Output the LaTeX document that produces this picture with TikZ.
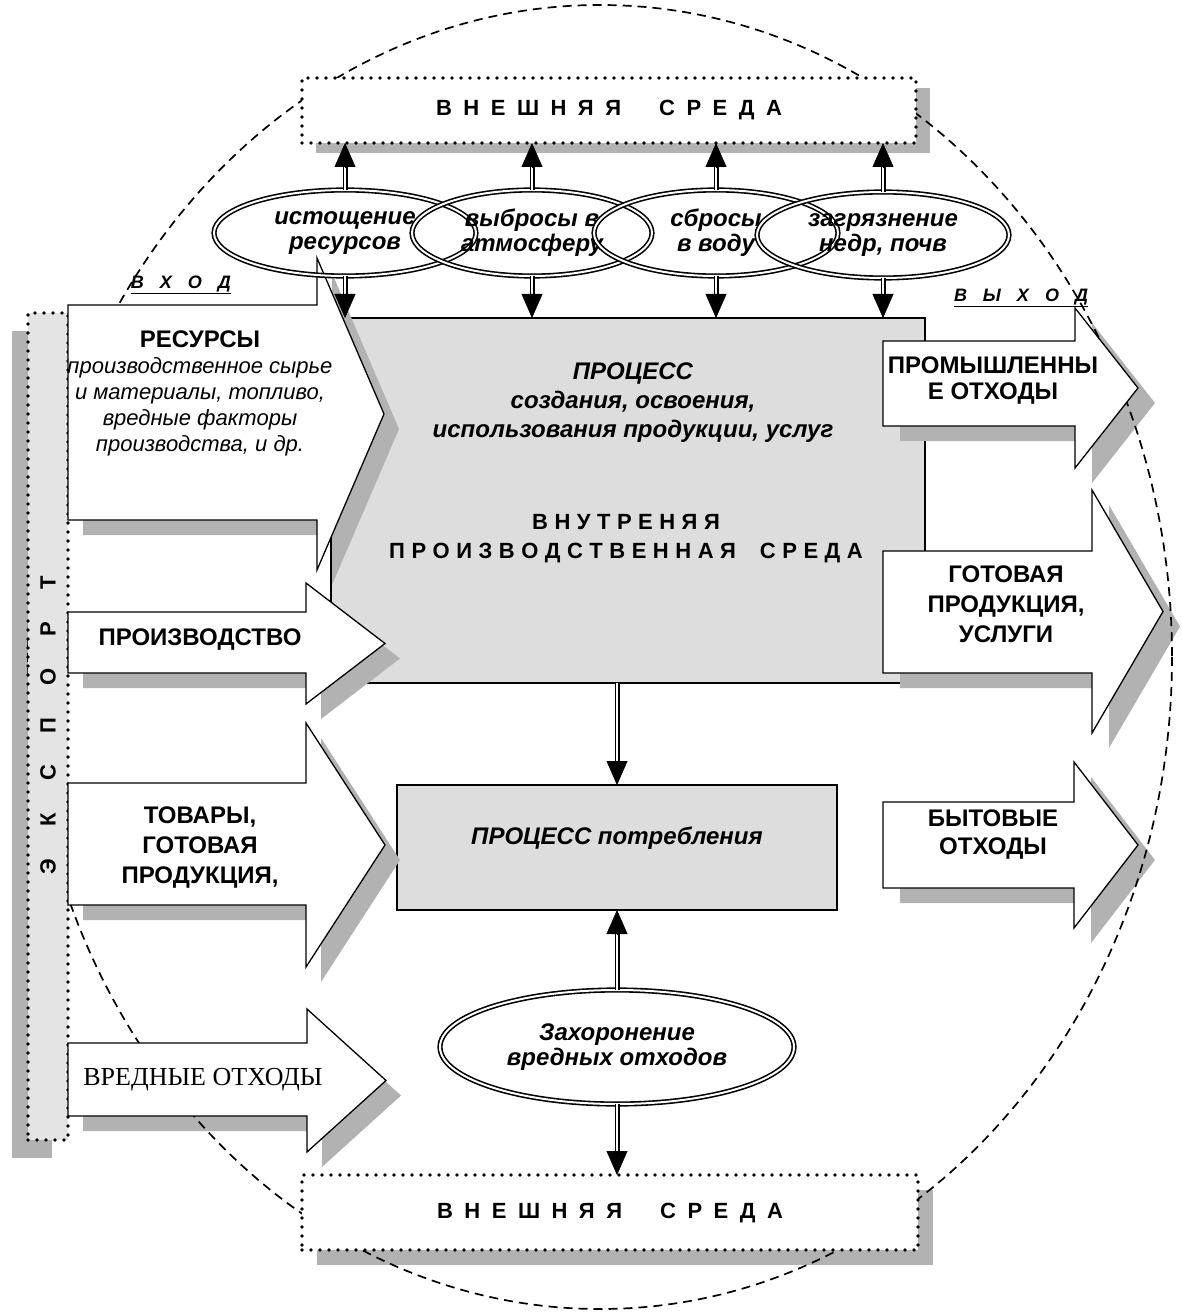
\documentclass[tikz,border=0pt]{standalone}
\usepackage{fontspec}
\setmainfont{Liberation Sans}
\newfontfamily\timesfont{Liberation Serif}
\usetikzlibrary{shapes.geometric,arrows.meta,calc}

\pgfdeclarelayer{back}
\pgfdeclarelayer{shadow}
\pgfdeclarelayer{ring}
\pgfsetlayers{back,shadow,ring,main}

\definecolor{shadowgray}{RGB}{178,178,178}
\definecolor{procgray}{RGB}{221,221,221}
\definecolor{bandgray}{RGB}{228,228,228}

% letters of a word set apart by #1
\makeatletter
\newcommand{\spread}[2]{\@tfor\spr@ch:=#2\do{\spr@ch\hspace{#1}}\unskip}
\makeatother

\tikzset{
  shd/.style={fill=shadowgray},
  blk/.style={draw, fill=white, line width=1.3pt},
  procbox/.style={draw, fill=procgray, line width=1.3pt, inner sep=0pt, outer sep=0pt},
  envbox/.style={draw, fill=white, line width=3.8pt, dash pattern=on 0pt off 9pt,
    line cap=round, inner sep=0pt, outer sep=0pt,
    font=\fontsize{22}{26}\selectfont\bfseries},
  bandbox/.style={draw, fill=bandgray, line width=3.8pt, dash pattern=on 0pt off 9pt,
    line cap=round, inner sep=0pt, outer sep=0pt},
  oval/.style={ellipse, draw, double, double distance=2pt, line width=1.6pt,
    inner sep=0pt, outer sep=0pt, align=center,
    font=\fontsize{24}{25}\selectfont\bfseries\itshape},
  ring/.style={dash pattern=on 9pt off 6pt, line width=1.7pt},
  dbl/.style={double, double distance=2.6pt, line width=1.2pt, shorten >=20pt},
  head/.style={-{Triangle[width=21pt,length=24pt]}},
  capstxt/.style={font=\fontsize{24}{30}\selectfont\bfseries, align=center, inner sep=0pt},
  ittxt/.style={font=\fontsize{24}{29}\selectfont\bfseries\itshape, align=center, inner sep=0pt},
  lbltxt/.style={font=\fontsize{18}{20}\selectfont\bfseries\itshape, inner sep=0pt},
}

% block arrow: body x0,x1 / body top,bottom / head top,bottom / tip x / shadow shift
\newcommand{\blockarrow}[8]{%
  \begin{pgfonlayer}{shadow}
    \fill[shd, shift={#8}] (#1,#3) -- (#2,#3) -- (#2,#5) -- (#7,{(#5+#6)/2})
      -- (#2,#6) -- (#2,#4) -- (#1,#4) -- cycle;
  \end{pgfonlayer}
  \draw[blk] (#1,#3) -- (#2,#3) -- (#2,#5) -- (#7,{(#5+#6)/2})
    -- (#2,#6) -- (#2,#4) -- (#1,#4) -- cycle;}

\newcommand{\shadowof}[2]{%
  \begin{pgfonlayer}{shadow}
    \fill[shd] ([shift={#2}]#1.north west) rectangle ([shift={#2}]#1.south east);
  \end{pgfonlayer}}

% double shaft with a filled head
\newcommand{\dlink}[2]{%
  \draw[dbl] (#1) -- (#2);
  \draw[head] ($(#2)!24pt!(#1)$) -- (#2);}

\begin{document}
\begin{tikzpicture}[x=1pt,y=-1pt]
  \useasboundingbox (0,0) rectangle (1181,1313);

  % process boxes
  \begin{pgfonlayer}{back}
    \node[procbox, minimum width=594pt, minimum height=365pt] (proc) at (628,500.5) {};
    \node[procbox, minimum width=440pt, minimum height=125pt] (cons) at (617,847.5) {};
  \end{pgfonlayer}

  \begin{pgfonlayer}{ring}
    \draw[ring] (600,657) ellipse [x radius=572, y radius=652];
  \end{pgfonlayer}

  % environment
  \node[envbox, minimum width=614pt, minimum height=65pt] (topenv) at (609,110.5)
    {\spread{11.5pt}{ВНЕШНЯЯ}\hspace{38pt}\spread{11.5pt}{СРЕДА}};
  \shadowof{topenv}{(14,10)}
  \node[envbox, minimum width=616pt, minimum height=75pt] (botenv) at (610,1212.5)
    {\spread{11.5pt}{ВНЕШНЯЯ}\hspace{38pt}\spread{11.5pt}{СРЕДА}};
  \shadowof{botenv}{(15,15)}

  % export band
  \node[bandbox, minimum width=40pt, minimum height=827pt] (export) at (48,726.5) {};
  \shadowof{export}{(-16,18)}
  \node[rotate=90, inner sep=0pt, font=\fontsize{22}{26}\selectfont\bfseries] (exptxt) at (48,725)
    {\spread{32pt}{ЭКСПОРТ}};

  % inputs
  \blockarrow{68}{317}{305}{520}{258}{570}{384}{(15,15)}
  \blockarrow{68}{306}{612}{673}{583}{704}{385}{(15,15)}
  \blockarrow{68}{306}{783}{905}{723}{967}{385}{(15,15)}
  \blockarrow{68}{307}{1043}{1116}{1009}{1152}{386}{(15,15)}
  \node[capstxt] (res) at (200,393) {РЕСУРСЫ\\[-4pt]
    {\mdseries\itshape\fontsize{22}{26}\selectfont производственное сырье}\\[-4pt]
    {\mdseries\itshape\fontsize{22}{26}\selectfont и материалы, топливо,}\\[-4pt]
    {\mdseries\itshape\fontsize{22}{26}\selectfont вредные факторы}\\[-4pt]
    {\mdseries\itshape\fontsize{22}{26}\selectfont производства, и др.}};
  \node[capstxt] (prod) at (200,640) {ПРОИЗВОДСТВО};
  \node[capstxt] (goods) at (200,848) {ТОВАРЫ,\\ГОТОВАЯ\\ПРОДУКЦИЯ,};
  \node[inner sep=0pt, font=\timesfont\fontsize{26}{28}\selectfont] (harm) at (203,1080) {ВРЕДНЫЕ ОТХОДЫ};
  \node[lbltxt] (vhod) at (181,285) {\underline{\spread{16pt}{ВХОД}}};

  % outputs
  \blockarrow{883}{1075}{341}{426}{308}{468}{1138}{(17,15)}
  \blockarrow{883}{1092}{551}{673}{490}{733}{1163}{(17,15)}
  \blockarrow{883}{1074}{802}{888}{762}{928}{1138}{(17,15)}
  \node[capstxt, font=\fontsize{24}{26}\selectfont\bfseries] (indw) at (993,381) {ПРОМЫШЛЕННЫ\\Е ОТХОДЫ};
  \node[capstxt] (ready) at (1006,604) {ГОТОВАЯ\\ПРОДУКЦИЯ,\\УСЛУГИ};
  \node[capstxt, font=\fontsize{24}{28}\selectfont\bfseries] (homew) at (993,835) {БЫТОВЫЕ\\ОТХОДЫ};
  \node[lbltxt] (vyhod) at (1021,298) {\underline{\spread{16pt}{ВЫХОД}}};

  % process texts
  \node[ittxt] (proctxt) at (633,403) {ПРОЦЕСС\\создания, освоения,\\использования продукции, услуг};
  \node[capstxt, font=\fontsize{22}{29}\selectfont\bfseries] (inner) at (626,539)
    {\spread{6.5pt}{ВНУТРЕНЯЯ}\\\spread{6.5pt}{ПРОИЗВОДСТВЕННАЯ}\hspace{24pt}\spread{6.5pt}{СРЕДА}};
  \node[ittxt] (constxt) at (617,838) {ПРОЦЕСС потребления};

  % impacts
  \node[oval, minimum width=262pt, minimum height=86pt] (e1) at (345,233) {истощение\\ресурсов};
  \node[oval, minimum width=240pt, minimum height=86pt] (e2) at (532,233) {выбросы в\\атмосферу};
  \node[oval, minimum width=244pt, minimum height=86pt] (e3) at (716,233) {сбросы\\в воду};
  \node[oval, minimum width=252pt, minimum height=86pt] (e4) at (883,235) {загрязнение\\недр, почв};
  \node[oval, fill=white, minimum width=354pt, minimum height=114pt] (burial) at (617,1047) {Захоронение\\вредных отходов};

  % links
  \foreach \e in {e1,e2,e3,e4}{
    \dlink{\e.north}{\e.north |- topenv.south}
    \dlink{\e.south}{\e.south |- proc.north}
  }
  \dlink{cons.north |- proc.south}{cons.north}
  \dlink{burial.north}{cons.south}
  \dlink{burial.south}{burial.south |- botenv.north}
\end{tikzpicture}
\end{document}
